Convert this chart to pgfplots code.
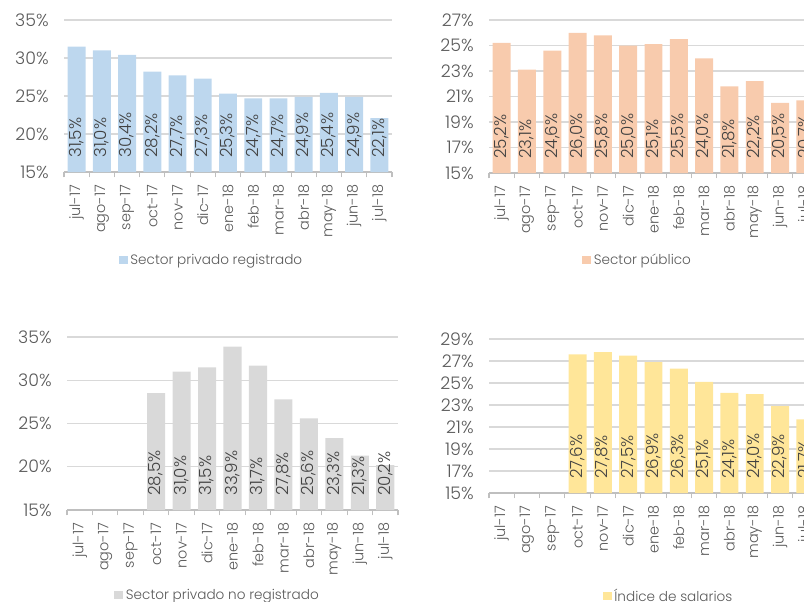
\documentclass[border=0pt]{standalone}
\usepackage{pgfplots}
\pgfplotsset{compat=1.18}
\usepackage{fontspec}
\setmainfont{Poppins}[UprightFont={* Light}]
\definecolor{cblue}{HTML}{BDD7EE}
\definecolor{corange}{HTML}{F8CBAD}
\definecolor{cgray}{HTML}{D9D9D9}
\definecolor{cyellow}{HTML}{FFE699}
\definecolor{txt}{HTML}{595959}
\definecolor{lbl}{HTML}{404040}
\definecolor{gridc}{HTML}{D9D9D9}
\definecolor{axisc}{HTML}{BFBFBF}
\pgfplotsset{
  mybar/.style={
    scale only axis, anchor=south west,
    xmin=-0.5, xmax=12.5, ymin=15,
    xtick={0,...,12},
    xticklabels={jul-17,ago-17,sep-17,oct-17,nov-17,dic-17,ene-18,feb-18,mar-18,abr-18,may-18,jun-18,jul-18},
    minor xtick={-0.5,0.5,...,12.5},
    major tick length=0pt, minor tick length=4pt, tick align=outside,
    minor tick style={draw=axisc, line width=0.8pt},
    ymajorgrids, grid style={draw=gridc, line width=1.1pt},
    axis lines*=left,
    y axis line style={draw=none},
    x axis line style={-, draw=axisc, line width=1.1pt},
    /pgf/number format/assume math mode=true,
    yticklabel={\pgfmathprintnumber{\tick}\%},
    yticklabel style={font=\fontsize{13}{14}\selectfont, text=txt, xshift=-8pt},
    xticklabel style={font=\fontsize{10.8}{11}\selectfont, text=txt, rotate=90, anchor=east, xshift=-6pt},
    legend style={draw=none, fill=none, font=\fontsize{10.2}{11}\selectfont, text=txt, anchor=center, inner sep=0pt,
      /tikz/every even column/.append style={column sep=0pt}},
    legend image code/.code={\fill[##1] (0pt,-3.3pt) rectangle (6.6pt,3.3pt);},
    legend cell align=left,
  },
  mydata/.style={
    ybar, bar width=0.71, bar shift=0pt, draw=none, fill=#1,
    nodes near coords={\pgfmathprintnumber[fixed, fixed zerofill, precision=1, use comma, assume math mode=true]{\pgfplotspointmeta}\%},
    visualization depends on={rawy \as \rawy},
    every node near coord/.append style={shift={(axis direction cs:0,{15-\rawy})}, yshift=9.5pt, rotate=90, anchor=west,
      font=\fontsize{12.5}{13}\selectfont, text=lbl, inner sep=1pt},
  },
}
\begin{document}
\begin{tikzpicture}
\useasboundingbox (0,0) rectangle (603pt,450.75pt);
\clip (0,0) rectangle (603pt,450.75pt);
% top left
\begin{axis}[mybar, at={(48pt,321.75pt)}, width=246pt, height=114pt,
  ymax=35, ytick={15,20,...,35},
  legend style={at={(0.451,-0.579)}}]
\addplot[mydata=cblue] coordinates {(0,31.5) (1,31.0) (2,30.4) (3,28.2) (4,27.7) (5,27.3) (6,25.3) (7,24.7) (8,24.7) (9,24.9) (10,25.4) (11,24.9) (12,22.1)};
\addlegendentry{Sector privado registrado}
\end{axis}
% top right
\begin{axis}[mybar, at={(366.75pt,321pt)}, width=246.75pt, height=114.75pt,
  ymax=27, ytick={15,17,...,27},
  legend style={at={(0.453,-0.569)}}]
\addplot[mydata=corange] coordinates {(0,25.2) (1,23.1) (2,24.6) (3,26.0) (4,25.8) (5,25.0) (6,25.1) (7,25.5) (8,24.0) (9,21.8) (10,22.2) (11,20.5) (12,20.7)};
\addlegendentry{Sector público}
\end{axis}
% bottom left
\begin{axis}[mybar, at={(50.25pt,68.25pt)}, width=248.25pt, height=129.75pt,
  ymax=35, ytick={15,20,...,35},
  legend style={at={(0.456,-0.491)}}]
\addplot[mydata=cgray] coordinates {(3,28.5) (4,31.0) (5,31.5) (6,33.9) (7,31.7) (8,27.8) (9,25.6) (10,23.3) (11,21.3) (12,20.2)};
\addlegendentry{Sector privado no registrado}
\end{axis}
% bottom right
\begin{axis}[mybar, at={(366.75pt,81pt)}, width=246.75pt, height=115.5pt,
  ymax=29, ytick={15,17,...,29},
  legend style={at={(0.547,-0.669)}}]
\addplot[mydata=cyellow] coordinates {(3,27.6) (4,27.8) (5,27.5) (6,26.9) (7,26.3) (8,25.1) (9,24.1) (10,24.0) (11,22.9) (12,21.7)};
\addlegendentry{Índice de salarios}
\end{axis}
\end{tikzpicture}
\end{document}
